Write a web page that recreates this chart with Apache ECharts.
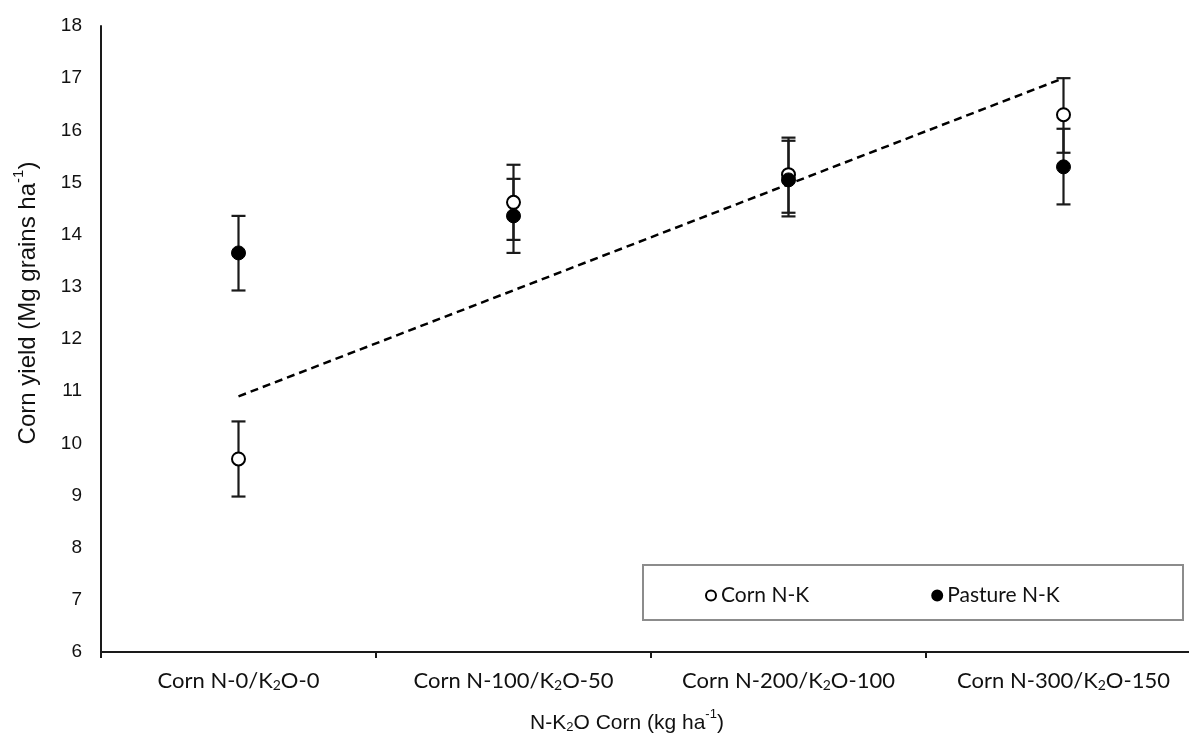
<!DOCTYPE html>
<html>
<head>
<meta charset="utf-8">
<script src="https://cdn.jsdelivr.net/npm/echarts@6/dist/echarts.min.js"></script>
<style>html,body{margin:0;padding:0;background:#fff;}#c{width:1189px;height:738px;}</style>
</head>
<body>
<div id="c"></div>
<script>
const categories = ['Corn N-0/K2O-0', 'Corn N-100/K2O-50', 'Corn N-200/K2O-100', 'Corn N-300/K2O-150'];
const cornMean = [9.7, 14.62, 15.15, 16.3];
const cornLow = [8.98, 13.9, 14.42, 15.57];
const cornHigh = [10.42, 15.34, 15.86, 17.0];
const pastureMean = [13.65, 14.36, 15.05, 15.3];
const pastureLow = [12.93, 13.65, 14.35, 14.58];
const pastureHigh = [14.36, 15.07, 15.8, 16.03];
const trendEnds = [10.9, 17.0];
const yTicks = [6, 18, 1];

const chart = echarts.init(document.getElementById('c'));
const ARIAL = 'Arial, "Liberation Sans", sans-serif';
const CAL = 'Lato, "Open Sans", sans-serif';

function errSeries(name, low, high) {
  return {
    type: 'custom',
    name: name + ' err',
    z: 2,
    silent: true,
    data: categories.map((c, i) => [i, low[i], high[i]]),
    encode: { x: 0, y: [1, 2] },
    renderItem: function (params, api) {
      const x = api.coord([api.value(0), api.value(1)])[0];
      const yl = api.coord([api.value(0), api.value(1)])[1];
      const yh = api.coord([api.value(0), api.value(2)])[1];
      const hw = 7;
      const st = { stroke: '#1a1a1a', lineWidth: 2.2 };
      return {
        type: 'group',
        children: [
          { type: 'line', shape: { x1: x, y1: yl, x2: x, y2: yh }, style: st },
          { type: 'line', shape: { x1: x - hw, y1: yl, x2: x + hw, y2: yl }, style: st },
          { type: 'line', shape: { x1: x - hw, y1: yh, x2: x + hw, y2: yh }, style: st }
        ]
      };
    }
  };
}

function catLabel(v) {
  const m = v.match(/^(.*K)2(O.*)$/);
  return '{a|' + m[1] + '}{s|2}{a|' + m[2] + '}';
}

function richFor(size) {
  const small = Math.round(size * 0.62);
  return {
    a: { fontFamily: ARIAL, fontSize: size, fill: '#111', color: '#111', lineHeight: size + 5, verticalAlign: 'bottom' },
    s: { fontFamily: ARIAL, fontSize: small, fill: '#111', color: '#111', lineHeight: small, verticalAlign: 'bottom' },
    p: { fontFamily: ARIAL, fontSize: small, fill: '#111', color: '#111', lineHeight: small, verticalAlign: 'top' }
  };
}

const option = {
  animation: false,
  backgroundColor: '#fff',
  grid: { left: 101, right: -12, top: 26, bottom: 86, containLabel: false, outerBoundsMode: 'none' },
  legend: {
    data: ['Corn N-K', 'Pasture N-K'],
    left: 700, top: 580,
    icon: 'circle',
    itemWidth: 10, itemHeight: 10,
    itemGap: 122,
    textStyle: { fontFamily: CAL, fontSize: 21, color: '#111' }
  },
  graphic: [{
    type: 'rect',
    shape: { x: 643, y: 565, width: 540, height: 55 },
    style: { fill: 'none', stroke: '#8c8c8c', lineWidth: 2 },
    z: 0
  }, {
    type: 'text',
    x: 26, y: 303,
    rotation: Math.PI / 2,
    style: {
      text: '{a|Corn yield (Mg grains ha}{p|-1}{a|)}',
      rich: richFor(24),
      align: 'center', verticalAlign: 'middle'
    }
  }, {
    type: 'text',
    x: 627, y: 721,
    style: {
      text: '{a|N-K}{s|2}{a|O Corn (kg ha}{p|-1}{a|)}',
      rich: richFor(21),
      align: 'center', verticalAlign: 'middle'
    }
  }],
  xAxis: {
    type: 'category',
    data: categories,
    boundaryGap: true,
    axisLine: { lineStyle: { color: '#1a1a1a', width: 2 } },
    axisTick: { show: true, length: 6, lineStyle: { color: '#1a1a1a', width: 2 } },
    axisLabel: {
      margin: 15,
      formatter: catLabel,
      rich: {
        a: { fontFamily: CAL, fontSize: 22, color: '#111', lineHeight: 25, verticalAlign: 'bottom' },
        s: { fontFamily: CAL, fontSize: 14, color: '#111', lineHeight: 12, verticalAlign: 'bottom' }
      }
    },
    splitLine: { show: false }
  },
  yAxis: {
    type: 'value',
    min: yTicks[0], max: yTicks[1], interval: yTicks[2],
    axisLine: { show: true, lineStyle: { color: '#1a1a1a', width: 2 } },
    axisTick: { show: false },
    splitLine: { show: false },
    axisLabel: { margin: 19, fontFamily: ARIAL, fontSize: 19, color: '#111' }
  },
  series: [
    errSeries('Corn N-K', cornLow, cornHigh),
    errSeries('Pasture N-K', pastureLow, pastureHigh),
    {
      name: 'Corn N-K', type: 'scatter', z: 3,
      symbol: 'circle', symbolSize: 13,
      itemStyle: { color: '#fff', borderColor: '#000', borderWidth: 2, opacity: 1 },
      data: cornMean
    },
    {
      name: 'Pasture N-K', type: 'scatter', z: 4,
      symbol: 'circle', symbolSize: 14,
      itemStyle: { color: '#000', borderColor: '#000', borderWidth: 1, opacity: 1 },
      data: pastureMean
    },
    {
      name: 'trend', type: 'line', z: 5,
      symbol: 'none', silent: true,
      lineStyle: { color: '#000', width: 2.5, type: [8, 5] },
      data: [[categories[0], trendEnds[0]], [categories[3], trendEnds[1]]]
    }
  ]
};
chart.setOption(option);
</script>
</body>
</html>
